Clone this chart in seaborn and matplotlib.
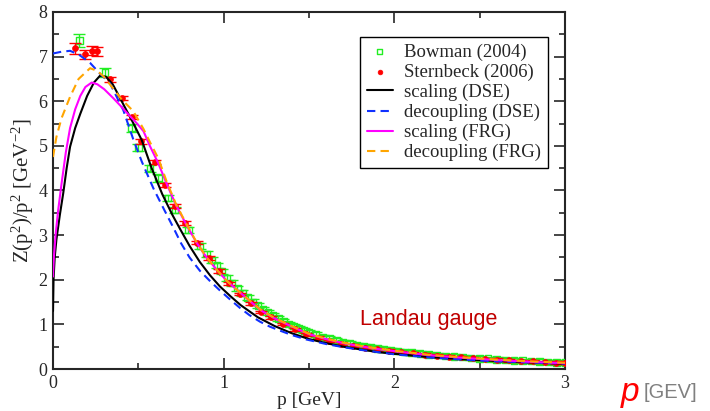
import numpy as np
import pandas as pd
import matplotlib
matplotlib.use("Agg")
import matplotlib.pyplot as plt
import seaborn as sns

# ---------------- data ----------------
# scaling (DSE) - black solid
dse_s_p = [0.0, 0.003, 0.01, 0.02, 0.04, 0.06, 0.08, 0.10, 0.13, 0.16, 0.20, 0.24, 0.275, 0.31,
           0.35, 0.393, 0.43, 0.461, 0.52, 0.578, 0.64, 0.70, 0.75, 0.80, 0.86, 0.92, 0.978, 1.04,
           1.10, 1.20, 1.30, 1.40, 1.50, 1.60, 1.70, 1.80, 1.90, 2.00, 2.20, 2.40, 2.60, 2.80, 3.00]
dse_s_z = [1.3, 2.0, 2.5, 2.9, 3.45, 3.94, 4.5, 4.98, 5.4, 5.72, 6.12, 6.42, 6.57, 6.55,
           6.38, 6.07, 5.8, 5.58, 5.13, 4.5, 3.92, 3.45, 3.1, 2.76, 2.4, 2.1, 1.85, 1.63,
           1.43, 1.16, 0.96, 0.80, 0.67, 0.58, 0.50, 0.44, 0.38, 0.34, 0.27, 0.22, 0.18, 0.15, 0.12]

# decoupling (DSE) - blue dashed
dse_d_p = [0.0, 0.05, 0.10, 0.15, 0.217, 0.275, 0.334, 0.412, 0.47, 0.52, 0.588, 0.65, 0.705,
           0.75, 0.80, 0.861, 0.92, 0.978, 1.04, 1.095, 1.15, 1.213, 1.27, 1.33, 1.40, 1.486,
           1.60, 1.70, 1.80, 1.90, 2.00, 2.20, 2.40, 2.60, 2.80, 3.00]
dse_d_z = [7.07, 7.11, 7.13, 7.05, 6.86, 6.62, 6.40, 5.80, 5.15, 4.65, 4.05, 3.58, 3.17,
           2.82, 2.50, 2.20, 1.97, 1.76, 1.55, 1.37, 1.21, 1.06, 0.95, 0.86, 0.76, 0.66,
           0.56, 0.49, 0.43, 0.38, 0.33, 0.26, 0.21, 0.17, 0.145, 0.12]

# scaling (FRG) - magenta solid
frg_s_p = [0.0, 0.005, 0.015, 0.03, 0.05, 0.075, 0.10, 0.13, 0.16, 0.19, 0.227, 0.26, 0.30,
           0.353, 0.40, 0.45, 0.49, 0.53, 0.57, 0.617, 0.666, 0.72, 0.783, 0.84, 0.90, 0.96,
           1.02, 1.10, 1.16, 1.22, 1.30, 1.40, 1.50, 1.60, 1.70, 1.80, 1.90, 2.00, 2.20, 2.40,
           2.60, 2.80, 3.00]
frg_s_z = [2.07, 2.5, 3.0, 3.55, 4.15, 4.85, 5.40, 5.82, 6.12, 6.32, 6.42, 6.38, 6.27,
           6.07, 5.88, 5.67, 5.51, 5.33, 4.98, 4.61, 4.15, 3.68, 3.22, 2.84, 2.50, 2.22,
           1.97, 1.70, 1.50, 1.31, 1.13, 0.95, 0.78, 0.67, 0.58, 0.51, 0.45, 0.40, 0.31, 0.25,
           0.20, 0.16, 0.13]

# decoupling (FRG) - orange dashed
frg_d_p = [0.0, 0.02, 0.05, 0.10, 0.15, 0.217, 0.26, 0.295, 0.35, 0.40, 0.47, 0.53, 0.57,
           0.617, 0.666, 0.72, 0.783, 0.84, 0.90, 0.96, 1.02, 1.10, 1.16, 1.22, 1.30, 1.40,
           1.50, 1.60, 1.70, 1.80, 1.90, 2.00, 2.20, 2.40, 2.60, 2.80, 3.00]
frg_d_z = [4.75, 5.2, 5.62, 6.1, 6.5, 6.74, 6.68, 6.56, 6.3, 6.05, 5.78, 5.38, 5.07,
           4.72, 4.2, 3.70, 3.24, 2.85, 2.50, 2.22, 1.97, 1.70, 1.51, 1.32, 1.14, 0.96,
           0.79, 0.68, 0.59, 0.52, 0.46, 0.41, 0.32, 0.26, 0.21, 0.17, 0.14]

# Sternbeck (2006) lattice - red filled circles
stb_p = [0.129, 0.187, 0.227, 0.26, 0.334, 0.402, 0.461, 0.515, 0.595, 0.656, 0.715, 0.773,
         0.842, 0.913, 0.975, 1.033, 1.095, 1.158, 1.22, 1.28, 1.35, 1.418, 1.48, 1.55, 1.62,
         1.69, 1.76, 1.83, 1.90, 1.97, 2.04, 2.11, 2.18, 2.25, 2.32, 2.39, 2.46, 2.53, 2.60,
         2.67, 2.74, 2.81, 2.88, 2.95, 3.00]
stb_z = [7.19, 7.05, 7.13, 7.12, 6.49, 6.07, 5.65, 5.10, 4.64, 4.12, 3.65, 3.27,
         2.83, 2.49, 2.20, 1.92, 1.68, 1.47, 1.28, 1.16, 1.01, 0.89, 0.78, 0.70, 0.63,
         0.57, 0.52, 0.48, 0.44, 0.41, 0.38, 0.35, 0.32, 0.30, 0.28, 0.26, 0.24, 0.225, 0.21,
         0.195, 0.18, 0.17, 0.155, 0.145, 0.14]
stb_e = [0.12, 0.10, 0.10, 0.10, 0.06, 0.05, 0.05, 0.05, 0.05, 0.05, 0.04, 0.04,
         0.04, 0.04, 0.04, 0.03, 0.03, 0.03, 0.03, 0.03, 0.03, 0.03, 0.03, 0.03, 0.03,
         0.03, 0.03, 0.03, 0.03, 0.03, 0.03, 0.03, 0.03, 0.03, 0.03, 0.03, 0.03, 0.03, 0.03,
         0.03, 0.03, 0.03, 0.03, 0.03, 0.03]

# Bowman (2004) lattice - green open squares
bow_p = [0.154, 0.305, 0.461, 0.50, 0.568, 0.617, 0.675, 0.715, 0.793, 0.861, 0.90, 0.93,
         0.96, 0.99, 1.02, 1.05, 1.08, 1.11, 1.14, 1.17, 1.20, 1.23, 1.26, 1.29, 1.32, 1.35,
         1.38, 1.41, 1.44, 1.47, 1.50, 1.54, 1.58, 1.62, 1.66, 1.70, 1.74, 1.78, 1.82, 1.86,
         1.90, 1.94, 1.98, 2.02, 2.06, 2.10, 2.15, 2.20, 2.25, 2.30, 2.35, 2.40, 2.45, 2.50,
         2.55, 2.60, 2.65, 2.70, 2.75, 2.80, 2.85, 2.90, 2.95, 3.00]
bow_z = [7.36, 6.65, 5.40, 4.96, 4.50, 4.28, 3.83, 3.56, 3.12, 2.76, 2.58, 2.44,
         2.32, 2.18, 2.04, 1.93, 1.81, 1.70, 1.60, 1.50, 1.42, 1.34, 1.27, 1.20, 1.13, 1.07,
         1.01, 0.96, 0.91, 0.86, 0.82, 0.77, 0.72, 0.68, 0.64, 0.60, 0.57, 0.54, 0.51, 0.49,
         0.465, 0.445, 0.425, 0.405, 0.385, 0.37, 0.35, 0.33, 0.31, 0.295, 0.28, 0.265, 0.25, 0.24,
         0.23, 0.215, 0.205, 0.195, 0.185, 0.175, 0.165, 0.16, 0.15, 0.145]
bow_e = [0.14, 0.10, 0.08, 0.08, 0.08, 0.08, 0.07, 0.07, 0.07, 0.07, 0.07, 0.06,
         0.06, 0.06, 0.06, 0.06, 0.06, 0.06, 0.06, 0.06, 0.05, 0.05, 0.05, 0.05, 0.05, 0.05,
         0.05, 0.05, 0.05, 0.05, 0.05, 0.05, 0.05, 0.05, 0.05, 0.05, 0.05, 0.05, 0.05, 0.05,
         0.05, 0.05, 0.05, 0.05, 0.05, 0.05, 0.05, 0.05, 0.05, 0.05, 0.05, 0.05, 0.05, 0.05,
         0.05, 0.05, 0.05, 0.05, 0.05, 0.05, 0.05, 0.05, 0.05, 0.05]

x_ticks = [0, 1, 2, 3]
y_ticks = [0, 1, 2, 3, 4, 5, 6, 7, 8]

# ---------------- styling ----------------
sns.set_style("ticks")
plt.rcParams["font.family"] = ["Liberation Serif", "DejaVu Serif"]
plt.rcParams["mathtext.fontset"] = "custom"
plt.rcParams["mathtext.rm"] = "Liberation Serif"
plt.rcParams["mathtext.it"] = "Liberation Serif:italic"

fig = plt.figure(figsize=(7.10, 4.11), dpi=100)
ax = fig.add_axes([53/710, 42/411, 512/710, 357/411])

GREEN = "#22ee22"
RED = "#ff0000"

# lattice data
ax.errorbar(bow_p, bow_z, yerr=bow_e, fmt="none", ecolor=GREEN, elinewidth=1.0,
            capsize=4, capthick=1.0, zorder=2)
sns.scatterplot(x=bow_p, y=bow_z, ax=ax, marker="s", s=22, facecolor="none",
                edgecolor=GREEN, linewidth=1.0, zorder=3, label="Bowman (2004)")
ax.errorbar(stb_p, stb_z, yerr=stb_e, fmt="none", ecolor=RED, elinewidth=1.0,
            capsize=4, capthick=1.0, zorder=4)
sns.scatterplot(x=stb_p, y=stb_z, ax=ax, marker="o", s=18, color=RED,
                edgecolor=RED, linewidth=0.5, zorder=5, label="Sternbeck (2006)")

# theory curves
sns.lineplot(x=dse_s_p, y=dse_s_z, ax=ax, color="black", lw=1.5, sort=False,
             estimator=None, zorder=6, label="scaling (DSE)")
sns.lineplot(x=dse_d_p, y=dse_d_z, ax=ax, color="#1030ff", lw=1.5, sort=False,
             estimator=None, zorder=6, dashes=False, label="decoupling (DSE)")
sns.lineplot(x=frg_s_p, y=frg_s_z, ax=ax, color="#ff00ff", lw=1.5, sort=False,
             estimator=None, zorder=6, label="scaling (FRG)")
sns.lineplot(x=frg_d_p, y=frg_d_z, ax=ax, color="#ffa500", lw=1.5, sort=False,
             estimator=None, zorder=6, dashes=False, label="decoupling (FRG)")
for ln in ax.get_lines():
    if ln.get_label() in ("decoupling (DSE)", "decoupling (FRG)"):
        ln.set_linestyle((0, (4, 2.5)))

ax.set_xlim(0, 3)
ax.set_ylim(0, 8)
ax.set_xticks(x_ticks)
ax.set_yticks(y_ticks)
ax.set_xticks([0.5, 1.5, 2.5], minor=True)
ax.set_yticks(np.arange(0.5, 8, 1.0), minor=True)
ax.tick_params(which="both", direction="in", top=True, right=True, width=1.2,
               labelsize=13, pad=4)
ax.tick_params(which="major", length=8)
ax.tick_params(which="minor", length=4)
for sp in ax.spines.values():
    sp.set_linewidth(1.5)
    sp.set_visible(True)

ax.set_xlabel("p [GeV]", fontsize=14, labelpad=0)
ax.set_ylabel(r"Z(p$^{2}$)/p$^{2}$ [GeV$^{-2}$]", fontsize=15, labelpad=2)

leg = ax.legend(loc="upper left", bbox_to_anchor=(0.5996, 0.930), borderaxespad=0,
                frameon=True, fancybox=False, edgecolor="black", fontsize=13.5,
                handlelength=1.4, handletextpad=0.6, labelspacing=0.15,
                borderpad=0.35, markerscale=0.8)
leg.get_frame().set_linewidth(1.0)
leg.get_frame().set_alpha(1)

ax.text(1.80, 1.10, "Landau gauge", color="#c00000", fontsize=15.5,
        family="Liberation Sans", ha="left", va="center")

fig.text(621/710, 19/411, "p", color="#ff0000", fontsize=24, style="italic",
         family="Liberation Sans", ha="left", va="center")
fig.text(644/710, 19/411, "[GEV]", color="#808080", fontsize=14.5,
         family="Liberation Sans", ha="left", va="center")

fig.savefig("out.png", dpi=100)
